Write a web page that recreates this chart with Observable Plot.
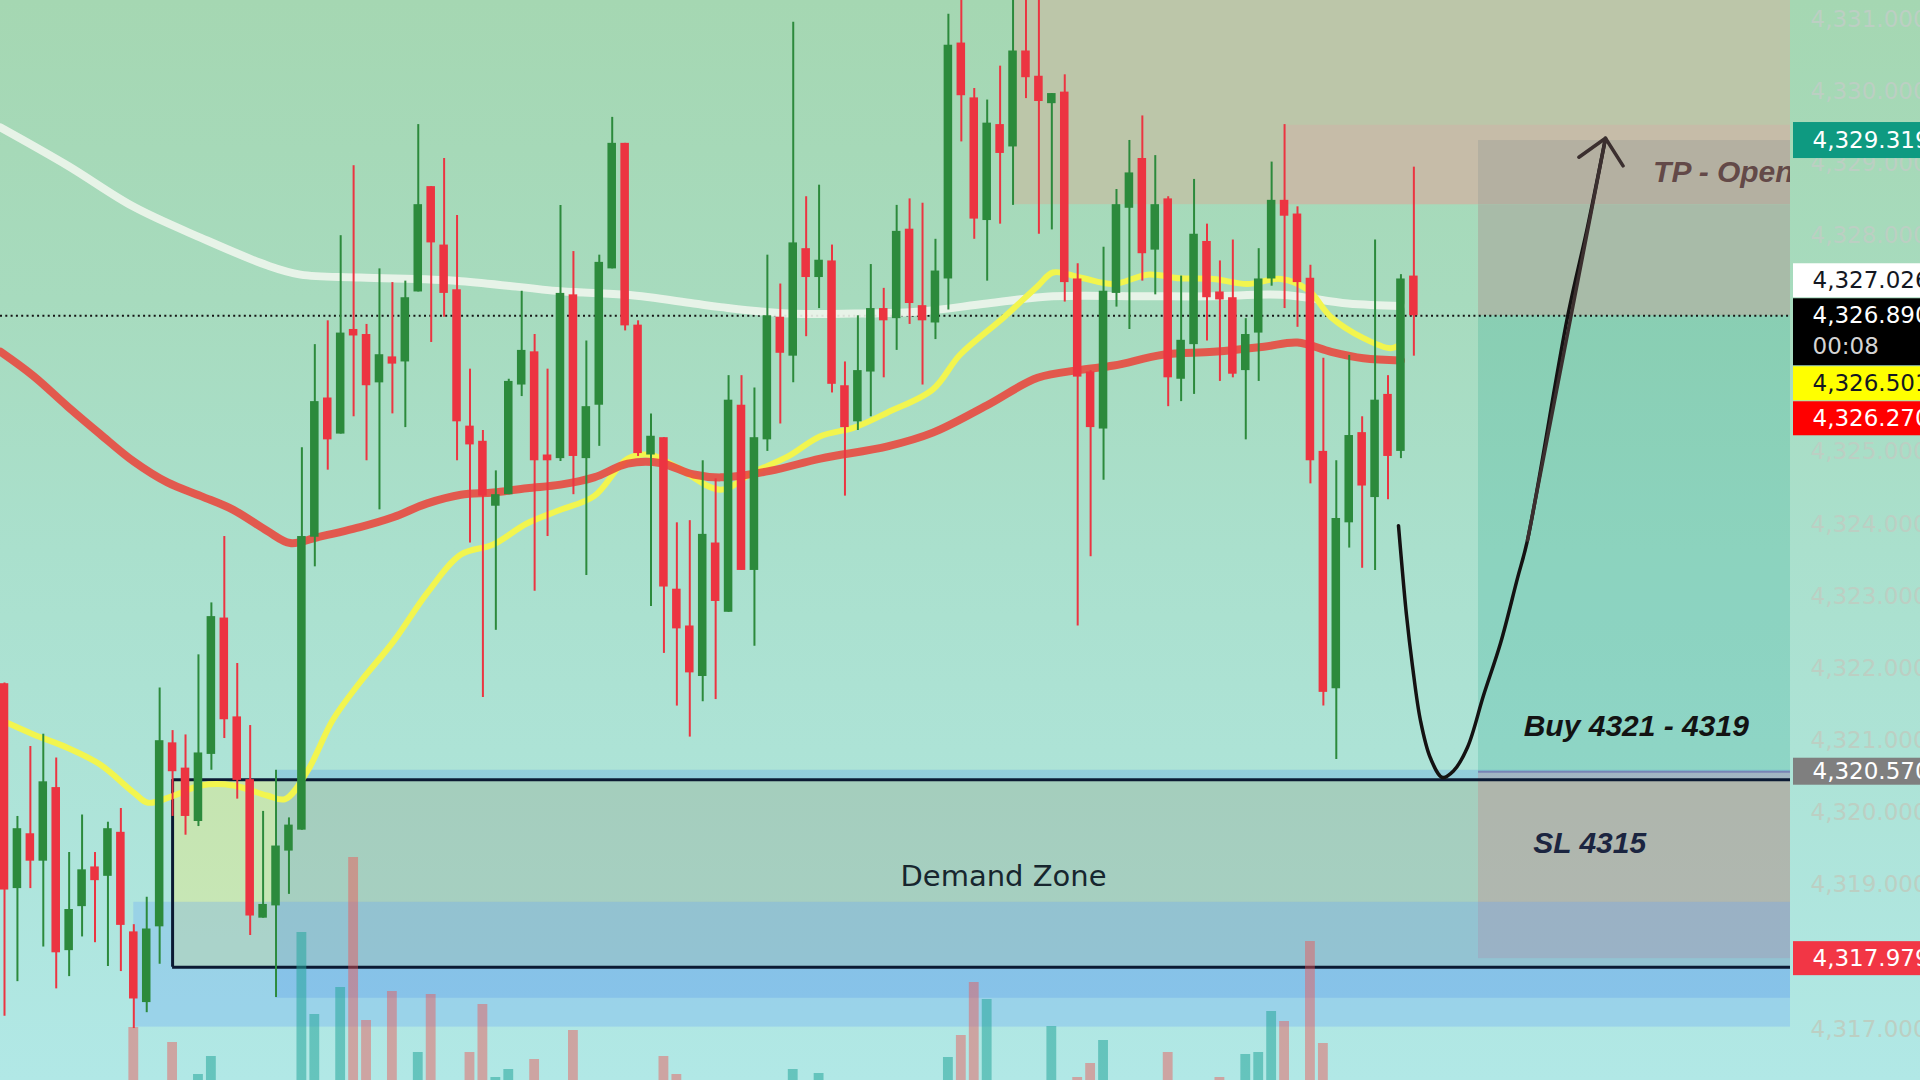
<!DOCTYPE html>
<html>
<head>
<meta charset="utf-8">
<script src="https://cdn.jsdelivr.net/npm/d3@7"></script>
<script src="https://cdn.jsdelivr.net/npm/@observablehq/plot@0.6"></script>
<style>
html,body{margin:0;padding:0;width:1920px;height:1080px;overflow:hidden;}
#chart{position:relative;width:1920px;height:1080px;overflow:hidden;
background:linear-gradient(to bottom,#a5d7b2 0px,#a7dbbe 300px,#aae0cd 550px,#ade3d6 750px,#b1e8e6 1080px);}
#chart svg{display:block;}
</style>
</head>
<body>
<div id="chart"></div>
<script>
// ---------------- DATA ----------------
// OHLC of bars 1..110
const opens = [4321.79,4318.95,4319.71,4319.33,4320.35,4318.09,4318.70,4319.25,4319.12,4319.73,
4318.35,4317.37,4318.42,4320.97,4320.62,4319.88,4320.81,4322.70,4321.33,4320.46,
4318.54,4318.71,4319.47,4319.76,4323.82,4325.75,4325.25,4326.70,4326.63,4325.96,
4326.32,4326.25,4327.22,4328.68,4327.87,4327.25,4325.36,4325.15,4324.25,4324.41,
4325.93,4326.39,4324.96,4324.91,4327.18,4324.91,4325.65,4327.54,4329.28,4326.76,
4324.96,4325.20,4323.10,4322.59,4321.89,4323.74,4322.78,4325.65,4323.36,4325.17,
4326.87,4326.33,4327.82,4327.42,4327.65,4325.92,4325.42,4326.11,4326.99,4326.85,
4328.09,4327.03,4326.79,4327.40,4330.67,4329.91,4328.21,4329.54,4329.23,4330.56,
4330.21,4329.83,4329.99,4327.40,4326.11,4325.32,4327.20,4328.38,4329.07,4327.80,
4328.51,4326.01,4326.49,4327.92,4327.22,4327.14,4326.13,4326.65,4327.40,4328.49,
4328.30,4327.41,4325.01,4321.72,4324.02,4325.27,4324.37,4325.80,4325.01,4327.44];
const highs = [4321.80,4319.95,4320.92,4321.09,4320.76,4319.45,4319.97,4319.45,4319.87,4320.06,
4318.45,4318.83,4321.73,4321.14,4321.08,4322.19,4322.91,4323.83,4322.07,4321.21,
4320.02,4320.59,4319.93,4325.06,4326.49,4326.82,4328.00,4328.97,4326.77,4327.54,
4327.35,4327.37,4329.54,4328.68,4329.07,4328.28,4326.15,4325.30,4324.74,4326.01,
4327.23,4326.63,4326.15,4328.42,4327.78,4326.54,4327.73,4329.64,4329.28,4326.82,
4325.53,4325.20,4324.02,4324.05,4324.88,4324.63,4326.06,4326.06,4325.89,4327.73,
4327.33,4330.96,4328.54,4328.70,4327.87,4326.25,4326.89,4327.60,4327.27,4328.42,
4328.51,4328.45,4327.95,4331.07,4331.50,4330.04,4329.88,4330.35,4331.50,4331.40,
4331.40,4329.97,4330.23,4327.61,4326.13,4327.84,4328.64,4329.32,4329.66,4329.11,
4328.54,4327.44,4328.78,4328.16,4327.65,4327.94,4326.85,4327.82,4329.02,4329.54,
4328.40,4327.59,4326.30,4324.88,4326.34,4325.49,4327.94,4326.06,4327.46,4328.95];
const lows = [4317.18,4317.66,4318.95,4318.14,4317.56,4317.73,4318.28,4318.20,4317.87,4317.80,
4317.01,4317.23,4317.90,4319.95,4319.69,4319.81,4320.59,4321.03,4320.19,4318.30,
4318.54,4317.44,4318.87,4319.76,4323.41,4324.75,4325.25,4325.49,4324.88,4324.20,
4325.53,4325.34,4327.22,4326.52,4326.87,4324.88,4323.74,4321.60,4322.53,4324.41,
4325.77,4323.07,4323.83,4324.87,4324.41,4323.29,4325.08,4327.54,4326.68,4324.94,
4322.86,4322.21,4321.48,4321.05,4321.54,4321.57,4322.78,4323.36,4322.31,4325.01,
4325.39,4325.96,4326.60,4326.99,4325.82,4324.39,4325.30,4325.49,4326.03,4326.41,
4326.77,4325.93,4326.56,4326.97,4329.30,4327.95,4327.37,4328.16,4328.42,4329.90,
4328.02,4328.08,4327.08,4322.59,4323.55,4324.61,4327.01,4326.70,4327.37,4327.18,
4325.63,4325.70,4325.80,4326.54,4325.98,4326.03,4325.17,4325.98,4327.30,4326.99,
4326.73,4324.56,4321.48,4320.74,4323.67,4323.39,4323.36,4324.34,4324.91,4326.33];
const closes = [4318.93,4319.78,4319.33,4320.43,4318.06,4318.66,4319.21,4319.06,4319.78,4318.44,
4317.42,4318.39,4321.00,4320.57,4319.95,4320.83,4322.72,4321.29,4320.45,4318.57,
4318.73,4319.54,4319.83,4323.83,4325.70,4325.17,4326.65,4326.61,4325.92,4326.35,
4326.22,4327.14,4328.43,4327.90,4327.20,4325.42,4325.10,4324.39,4324.41,4325.98,
4326.41,4324.88,4324.88,4327.20,4324.94,4325.63,4327.63,4329.28,4326.75,4324.98,
4325.22,4323.13,4322.55,4321.94,4323.86,4322.93,4325.72,4323.36,4325.20,4326.89,
4326.37,4327.90,4327.42,4327.66,4325.94,4325.34,4326.13,4326.99,4326.82,4328.06,
4327.06,4326.82,4327.51,4330.64,4329.94,4328.23,4329.56,4329.14,4330.56,4330.19,
4329.86,4329.97,4327.35,4326.04,4325.34,4327.23,4328.43,4328.87,4327.75,4328.43,
4326.03,4326.55,4328.02,4327.14,4327.11,4326.08,4326.63,4327.40,4328.49,4328.27,
4327.35,4324.88,4321.67,4324.08,4325.23,4324.53,4325.72,4324.94,4327.40,4326.89];

// Visible part of the volume bars (bar index, volume in pane units)
const volBars = [11,14,16,17,24,25,27,28,29,31,33,34,37,38,39,40,42,45,52,53,62,64,74,75,76,77,82,84,85,86,91,95,97,98,99,100,102,103];
const volValues = [53,38,6,24,148,66,93,223,60,89,28,86,28,76,3,11,21,50,24,6,11,7,23,45,98,81,54,3,17,40,28,3,26,28,69,59,139,37];

// Moving averages: [bar index, price]
const maWhite = [[0.7,4329.50],[5.9,4328.97],[11.0,4328.40],[16.2,4327.97],[21.3,4327.59],[23.9,4327.46],[28.5,4327.42],[36.3,4327.37],[44.0,4327.23],[49.2,4327.18],[54.3,4327.06],[56.4,4327.01],[61.6,4326.92],[66.7,4326.92],[71.9,4326.95],[77.0,4327.06],[82.1,4327.16],[89.4,4327.16],[94.5,4327.16],[99.7,4327.18],[104.9,4327.06],[109,4327.026]];
const maRed = [[0.7,4326.39],[3.2,4326.06],[5.9,4325.63],[8.4,4325.25],[11.0,4324.87],[13.6,4324.58],[16.2,4324.39],[18.7,4324.20],[21.3,4323.91],[23.1,4323.74],[25.2,4323.82],[28.5,4323.96],[31.1,4324.10],[33.7,4324.29],[36.3,4324.41],[38.8,4324.44],[41.4,4324.50],[44.0,4324.55],[46.6,4324.65],[49.2,4324.84],[51.7,4324.85],[54.3,4324.69],[56.4,4324.65],[60.2,4324.74],[64.1,4324.91],[69.3,4325.08],[72.8,4325.27],[77.0,4325.65],[80.9,4326.03],[84.2,4326.14],[86.8,4326.20],[90.6,4326.35],[94.5,4326.39],[98.4,4326.46],[101.0,4326.52],[103.6,4326.39],[106.1,4326.30],[109,4326.270]];
const maYellow = [[0.7,4321.29],[3.2,4321.09],[5.9,4320.90],[8.4,4320.67],[11.0,4320.28],[12.1,4320.14],[14.1,4320.24],[16.2,4320.38],[18.7,4320.38],[21.3,4320.24],[22.7,4320.19],[24.4,4320.57],[26.4,4321.29],[28.5,4321.81],[31.1,4322.38],[33.7,4323.05],[36.3,4323.58],[38.8,4323.72],[41.4,4324.01],[44.0,4324.20],[46.6,4324.39],[49.2,4324.91],[51.0,4324.96],[53.0,4324.79],[56.4,4324.48],[58.9,4324.72],[61.6,4324.94],[64.1,4325.22],[66.7,4325.34],[69.3,4325.55],[72.8,4325.87],[74.9,4326.35],[78.3,4326.87],[80.9,4327.30],[82.1,4327.49],[84.2,4327.42],[86.8,4327.33],[89.4,4327.46],[91.9,4327.41],[94.5,4327.40],[97.1,4327.33],[99.7,4327.40],[101.8,4327.25],[103.6,4326.87],[106.1,4326.58],[108.2,4326.44],[109,4326.501]];

// Zones (bar index where they start, price bounds)
const supplyZone = {fromBar: 79, low: 4328.43};
const upperSupply = {fromBar: 100, low: 4328.43, high: 4329.53};
const demandZone = {fromBar: 14, low: 4317.86, high: 4320.46};
const blueZoneA = {fromBar: 22, low: 4317.43, high: 4320.59};
const blueZoneB = {fromBar: 11, low: 4317.03, high: 4318.76};
const position = {fromBar: 115, entry: 4320.570, tp: 4329.319, sl: 4317.979};
const lastPrice = 4326.890;
const countdown = "00:08";

// Hand-drawn projection path: [bar index, price]
const projection = [[108.81,4323.98],[109.04,4323.50],[109.43,4322.74],[109.89,4322.04],[110.51,4321.28],[111.28,4320.76],[112.21,4320.49],[113.06,4320.58],[114.15,4320.91],[115.39,4321.63],[116.70,4322.35],[118.01,4323.25],[118.79,4323.78],[121.88,4326.87],[123.43,4328.12],[124.82,4329.35]];

// Text annotations
const notes = [
  {bar: 78.26, price: 4319.11, text: "Demand Zone"},
  {bar: 127.2, price: 4321.20, text: "Buy 4321 - 4319"},
  {bar: 123.6, price: 4319.58, text: "SL 4315"},
  {bar: 128.5, price: 4328.88, text: "TP - Open"}
];

// Right price scale
const yTicks = d3.range(4317, 4332, 1);
const priceLabels = [
  {kind: "tp", value: position.tp},
  {kind: "white", value: 4327.026},
  {kind: "yellow", value: 4326.501},
  {kind: "red", value: 4326.270},
  {kind: "entry", value: position.entry},
  {kind: "sl", value: position.sl}
];

// ---------------- LAYOUT ----------------
const W = 1920, H = 1080, MR = 130;
const BAR_PX = 12.93, FIRST_BAR_PX = 4;
const X_MIN = 1 - FIRST_BAR_PX / BAR_PX;
const X_MAX = 1 + (W - MR - FIRST_BAR_PX) / BAR_PX;
const X_AXIS_END = X_MAX + MR / BAR_PX;
const Y_MIN = 4316.29, Y_MAX = 4331.26;
const TOP = Y_MAX + 1;
const pxPerPrice = H / (Y_MAX - Y_MIN);

const GREEN = "#2c8a3c", RED = "#ec3441";
const bars = closes.map((c, k) => ({i: k + 1, o: opens[k], h: highs[k], l: lows[k], c}));
const up = bars.filter(d => d.c >= d.o), down = bars.filter(d => d.c < d.o);
const BODY = 0.33, VOLW = 0.38;
const vols = volBars.map((b, k) => ({i: b, v: volValues[k], up: bars[b - 1].c >= bars[b - 1].o}));

// price-label dodge around the current-price label
const yS = Plot.scale({y: {domain: [Y_MIN, Y_MAX], range: [H, 0]}});
const LH = 34;
const curY = yS.apply(lastPrice);
const curTop = curY - 17, curBot = curY + 50;
const placed = priceLabels.map(d => ({...d, py: yS.apply(d.value), h: d.kind === "tp" ? 36 : d.kind === "entry" ? 27 : LH}));
{
  let lim = curTop - 1;
  placed.filter(d => d.py < curY).sort((a, b) => b.py - a.py).forEach(d => {
    d.cy = Math.min(d.py, lim - d.h / 2); lim = d.cy - d.h / 2 - 1;
  });
  lim = curBot + 1;
  placed.filter(d => d.py >= curY).sort((a, b) => a.py - b.py).forEach(d => {
    d.cy = Math.max(d.py, lim + d.h / 2); lim = d.cy + d.h / 2 + 1;
  });
}
const labelStyle = {
  tp: ["#0e9a81", "#ffffff"], white: ["#ffffff", "#131722"], yellow: ["#ffff00", "#131722"],
  red: ["#ff0000", "#ffffff"], entry: ["#7f7f7f", "#ffffff"], sl: ["#f23645", "#ffffff"]
};
placed.forEach(d => {
  d.y1 = yS.invert(d.cy + d.h / 2); d.y2 = yS.invert(d.cy - d.h / 2); d.ty = yS.invert(d.cy);
  d.bg = labelStyle[d.kind][0]; d.fg = labelStyle[d.kind][1];
});
// tick labels completely hidden behind a price label are not drawn
const boxes = placed.map(d => [d.cy - d.h / 2, d.cy + d.h / 2]).concat([[curTop, curBot]]);
const visibleTicks = yTicks.filter(t => {
  const p = yS.apply(t);
  return !boxes.some(([a, b]) => p - 9 >= a && p + 9 <= b);
});
const fmt = d3.format(",.3f");
const AXIS_FONT = "DejaVu Sans";
const NOTE_FONT = "Liberation Sans";

const one = o => [o];
const lineXY = {x: d => d[0], y: d => d[1], curve: "catmull-rom", strokeLinecap: "round", strokeLinejoin: "round"};

const chart = Plot.plot({
  width: W, height: H,
  marginLeft: 0, marginRight: MR, marginTop: 0, marginBottom: 0,
  x: {domain: [X_MIN, X_MAX], axis: null},
  y: {domain: [Y_MIN, Y_MAX], axis: null},
  style: {background: "transparent", overflow: "hidden"},
  marks: [
    // supply zones
    Plot.rect(one(supplyZone), {x1: "fromBar", x2: () => X_MAX, y1: "low", y2: () => TOP, fill: "#bcc6a9", clip: true}),
    Plot.rect(one(upperSupply), {x1: "fromBar", x2: () => X_MAX, y1: "low", y2: "high", fill: "#c6bca8", clip: true}),
    // long position: open part and target part
    Plot.rect(one(position), {x1: "fromBar", x2: () => X_MAX, y1: () => upperSupply.low, y2: "tp", fill: "#b4b0a1"}),
    Plot.rect(one(position), {x1: "fromBar", x2: () => X_MAX, y1: () => lastPrice, y2: () => upperSupply.low, fill: "#a8bba8"}),
    Plot.rect(one(position), {x1: "fromBar", x2: () => X_MAX, y1: "entry", y2: () => lastPrice, fill: "#089981", fillOpacity: 0.19}),
    // demand & liquidity zones
    Plot.rect(one(demandZone), {x1: "fromBar", x2: () => X_MAX, y1: "low", y2: "high", fill: "#f4e869", fillOpacity: 0.35}),
    Plot.rect(one(blueZoneA), {x1: "fromBar", x2: () => X_MAX, y1: "low", y2: "high", fill: "#438ae3", fillOpacity: 0.25}),
    Plot.rect(one(position), {x1: "fromBar", x2: () => X_MAX, y1: "sl", y2: "entry", fill: "#d16e7d", fillOpacity: 0.25}),
    Plot.rect(one(blueZoneB), {x1: "fromBar", x2: () => X_MAX, y1: "low", y2: "high", fill: "#67a4f8", fillOpacity: 0.3}),
    // demand border
    Plot.ruleY([demandZone.high, demandZone.low], {x1: demandZone.fromBar, x2: X_MAX, stroke: "#0b1a33", strokeWidth: 3}),
    Plot.ruleX([demandZone.fromBar], {y1: demandZone.low, y2: demandZone.high, stroke: "#0b1a33", strokeWidth: 3}),
    // entry line
    Plot.ruleY([position.entry], {x1: position.fromBar, x2: X_MAX, stroke: "#7884b4", strokeWidth: 2}),
    // volume
    Plot.rect(vols.filter(d => !d.up), {x1: d => d.i - VOLW, x2: d => d.i + VOLW, y1: () => Y_MIN, y2: d => Y_MIN + d.v / pxPerPrice, fill: "#ef5350", fillOpacity: 0.45}),
    Plot.rect(vols.filter(d => d.up), {x1: d => d.i - VOLW, x2: d => d.i + VOLW, y1: () => Y_MIN, y2: d => Y_MIN + d.v / pxPerPrice, fill: "#26a69a", fillOpacity: 0.55}),
    // current price dotted line
    Plot.ruleY([lastPrice], {x1: X_MIN, x2: X_MAX, stroke: "#151515", strokeWidth: 2, strokeDasharray: "2,3.3"}),
    // moving averages
    Plot.line(maWhite, {...lineXY, stroke: "#eef5ec", strokeWidth: 8, strokeOpacity: 0.9}),
    Plot.line(maYellow, {...lineXY, stroke: "#f2f54e", strokeWidth: 6}),
    Plot.line(maRed, {...lineXY, stroke: "#e84a40", strokeWidth: 8, strokeOpacity: 0.9}),
    // candles
    Plot.ruleX(up, {x: "i", y1: "l", y2: "h", stroke: GREEN, strokeWidth: 2, clip: true}),
    Plot.ruleX(down, {x: "i", y1: "l", y2: "h", stroke: RED, strokeWidth: 2, clip: true}),
    Plot.rect(up, {x1: d => d.i - BODY, x2: d => d.i + BODY, y1: "o", y2: "c", fill: GREEN}),
    Plot.rect(down, {x1: d => d.i - BODY, x2: d => d.i + BODY, y1: "c", y2: "o", fill: RED}),
    // projection
    Plot.line(projection, {...lineXY, stroke: "#141212", strokeWidth: 3.5}),
    Plot.arrow(one(projection), {
      x1: d => d[d.length - 4][0], y1: d => d[d.length - 4][1],
      x2: d => d[d.length - 1][0], y2: d => d[d.length - 1][1],
      stroke: "#3b2f2f", strokeWidth: 3.5, headLength: 14, headAngle: 87
    }),
    // annotations
    Plot.text(notes.slice(0, 1), {x: "bar", y: "price", text: "text", fontFamily: "DejaVu Sans", fontSize: 29, fill: "#17262e"}),
    Plot.text(notes.slice(1, 2), {x: "bar", y: "price", text: "text", fontFamily: NOTE_FONT, fontSize: 30, fontStyle: "italic", fontWeight: "bold", fill: "#131313"}),
    Plot.text(notes.slice(2, 3), {x: "bar", y: "price", text: "text", fontFamily: NOTE_FONT, fontSize: 30, fontStyle: "italic", fontWeight: "bold", fill: "#1b2540"}),
    Plot.text(notes.slice(3, 4), {x: "bar", y: "price", text: "text", textAnchor: "start", fontFamily: NOTE_FONT, fontSize: 30, fontStyle: "italic", fontWeight: "bold", fill: "#5b3f3f", fillOpacity: 0.92, clip: true}),
    // price scale
    Plot.text(visibleTicks, {x: () => X_MAX, y: d => d, text: d => fmt(d), dx: 20, textAnchor: "start", fontFamily: AXIS_FONT, fontSize: 23, fill: "#bccfc3"}),
    Plot.rect(placed, {x1: () => X_MAX, x2: () => X_AXIS_END, y1: "y1", y2: "y2", fill: "bg", insetLeft: 3}),
    Plot.text(placed, {x: () => X_MAX, y: "ty", text: d => fmt(d.value), fill: "fg", dx: 22, textAnchor: "start", fontFamily: AXIS_FONT, fontSize: 23}),
    Plot.rect(one(lastPrice), {x1: () => X_MAX, x2: () => X_AXIS_END, y1: () => yS.invert(curBot), y2: () => yS.invert(curTop), fill: "#000000", insetLeft: 3}),
    Plot.text(one(lastPrice), {x: () => X_MAX, y: d => d, text: d => fmt(d), fill: "#ffffff", dx: 22, textAnchor: "start", fontFamily: AXIS_FONT, fontSize: 23}),
    Plot.text(one(countdown), {x: () => X_MAX, y: () => yS.invert(curY + 31), text: d => d, fill: "#d4d4d4", dx: 22, textAnchor: "start", fontFamily: AXIS_FONT, fontSize: 23})
  ],
  color: {type: "identity"}
});
document.getElementById("chart").appendChild(chart);
</script>
</body>
</html>
